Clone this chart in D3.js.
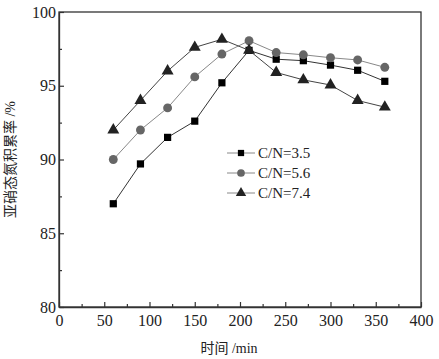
<!DOCTYPE html>
<html>
<head>
<meta charset="utf-8">
<script src="https://cdn.jsdelivr.net/npm/d3@7"></script>
<style>
  body { margin: 0; background: #fff; }
</style>
</head>
<body>
<div id="chart"></div>
<script>
// data
var times = [60, 90, 120, 150, 180, 210, 240, 270, 300, 330, 360];
var cn35 = [87.0, 89.7, 91.5, 92.6, 95.2, 97.4, 96.8, 96.7, 96.4, 96.05, 95.3];
var cn56 = [90.0, 92.0, 93.5, 95.6, 97.15, 98.05, 97.25, 97.1, 96.9, 96.75, 96.25];
var cn74 = [92.0, 94.0, 96.0, 97.6, 98.15, 97.4, 95.9, 95.4, 95.05, 94.0, 93.55];
var seriesNames = ["C/N=3.5", "C/N=5.6", "C/N=7.4"];
var xTicks = [0, 50, 100, 150, 200, 250, 300, 350, 400];
var yTicks = [80, 85, 90, 95, 100];

var serif = "Liberation Serif, DejaVu Serif, serif";
var cjk = "Liberation Serif, Noto Sans CJK SC, serif";

var width = 439, height = 359;
var margin = {left: 59, top: 12, right: 18, bottom: 52};

var svg = d3.select("#chart").append("svg")
    .attr("width", width)
    .attr("height", height);

var x = d3.scaleLinear().domain([0, 400]).range([margin.left, width - margin.right]);
var y = d3.scaleLinear().domain([80, 100]).range([height - margin.bottom, margin.top]);

// frame
svg.append("rect")
    .attr("x", x(0)).attr("y", y(100))
    .attr("width", x(400) - x(0)).attr("height", y(80) - y(100))
    .attr("fill", "none").attr("stroke", "#333").attr("stroke-width", 1.3);

// x axis, ticks pointing inward
var xAxis = svg.append("g")
    .attr("transform", "translate(0," + y(80) + ")")
    .call(d3.axisBottom(x).tickValues(xTicks).tickSizeInner(-5).tickSizeOuter(0).tickPadding(10));
svg.append("g")
    .attr("transform", "translate(0," + y(80) + ")")
    .call(d3.axisBottom(x).tickValues(d3.range(25, 400, 50)).tickSize(-3).tickFormat(""))
    .select(".domain").remove();

var yAxis = svg.append("g")
    .attr("transform", "translate(" + x(0) + ",0)")
    .call(d3.axisLeft(y).tickValues(yTicks).tickSizeInner(-5).tickSizeOuter(0).tickPadding(3));
svg.append("g")
    .attr("transform", "translate(" + x(0) + ",0)")
    .call(d3.axisLeft(y).tickValues(d3.range(82.5, 100, 5)).tickSize(-3).tickFormat(""))
    .select(".domain").remove();

svg.selectAll(".tick line").attr("stroke", "#333").attr("stroke-width", 1.2);
svg.selectAll(".domain").attr("stroke", "#333").attr("stroke-width", 1.3);
svg.selectAll(".tick text")
    .attr("fill", "#222")
    .style("font-family", serif)
    .style("font-size", "16px");
xAxis.selectAll(".tick text").attr("dy", "0.55em");

// axis titles
svg.append("text")
    .attr("transform", "translate(15," + ((y(80) + y(100)) / 2) + ") rotate(-90)")
    .attr("text-anchor", "middle")
    .style("font-family", cjk)
    .style("font-size", "14px")
    .attr("fill", "#222")
    .text("亚硝态氮积累率 /%");

svg.append("text")
    .attr("x", 229)
    .attr("y", 353)
    .attr("text-anchor", "middle")
    .style("font-family", cjk)
    .style("font-size", "14px")
    .attr("fill", "#222")
    .text("时间 /min");

// series
var series = [
    {name: seriesNames[0], values: cn35, shape: d3.symbolSquare, size: 52, fill: "#000", line: "#333"},
    {name: seriesNames[1], values: cn56, shape: d3.symbolCircle, size: 62, fill: "#666", line: "#888"},
    {name: seriesNames[2], values: cn74, shape: d3.symbolTriangle, size: 62, fill: "#222", line: "#444"}
];

var line = d3.line()
    .x(function(d, i) { return x(times[i]); })
    .y(function(d) { return y(d); });

series.forEach(function(s) {
    svg.append("path")
        .attr("d", line(s.values))
        .attr("fill", "none")
        .attr("stroke", s.line)
        .attr("stroke-width", 1);
    svg.append("g").selectAll("path")
        .data(s.values)
        .enter()
        .append("path")
        .attr("transform", function(d, i) { return "translate(" + x(times[i]) + "," + y(d) + ")"; })
        .attr("d", d3.symbol().type(s.shape).size(s.size))
        .attr("fill", s.fill);
});

// legend
var legend = svg.append("g").attr("transform", "translate(227,153)");
series.forEach(function(s, i) {
    var g = legend.append("g").attr("transform", "translate(0," + (i * 20) + ")");
    g.append("line")
        .attr("x1", 0).attr("x2", 28)
        .attr("stroke", "#888").attr("stroke-width", 1);
    g.append("path")
        .attr("transform", "translate(14,0)")
        .attr("d", d3.symbol().type(s.shape).size(s.size * 0.75))
        .attr("fill", s.fill);
    g.append("text")
        .attr("x", 31).attr("dy", "0.35em")
        .style("font-family", serif)
        .style("font-size", "15px")
        .attr("fill", "#222")
        .text(s.name);
});
</script>
</body>
</html>
